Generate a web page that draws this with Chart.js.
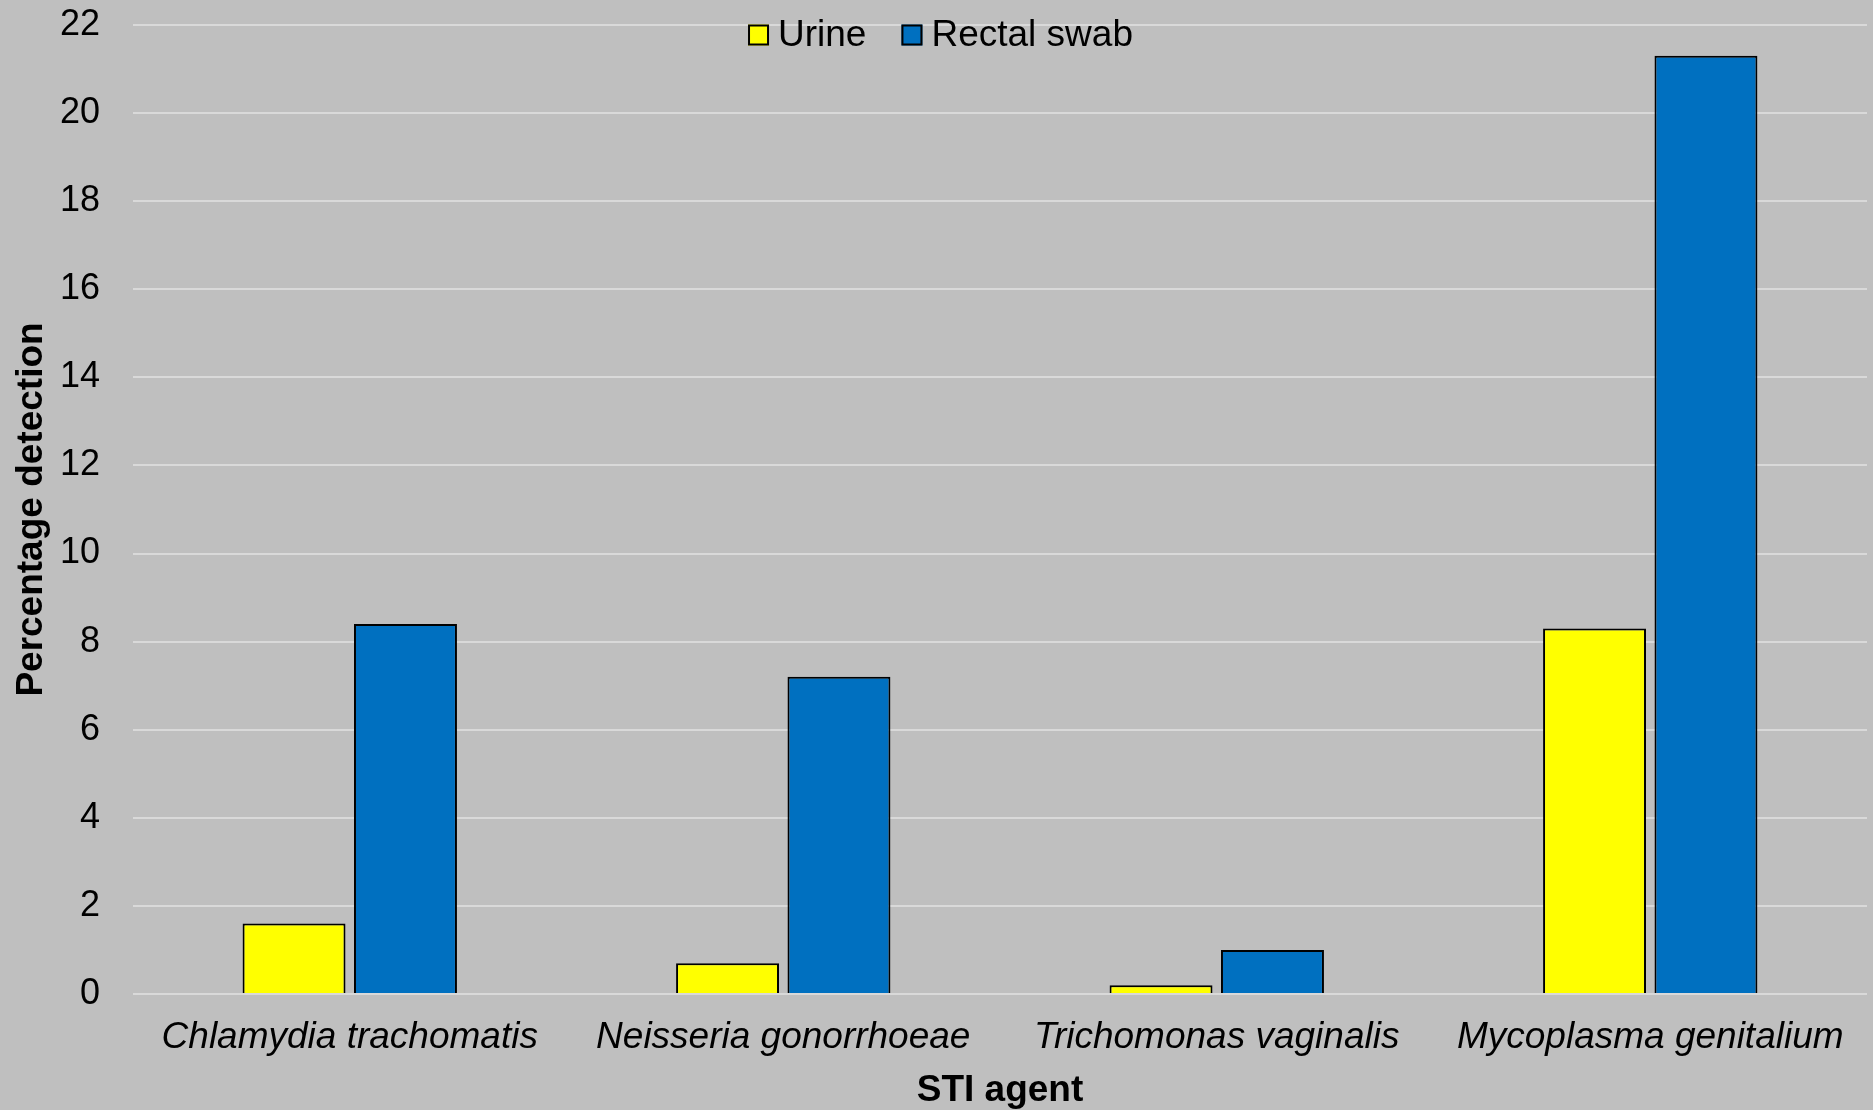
<!DOCTYPE html>
<html>
<head>
<meta charset="utf-8">
<script src="https://cdn.jsdelivr.net/npm/chart.js@4/dist/chart.umd.min.js"></script>
<style>
  html, body { margin: 0; padding: 0; background: #bfbfbf; }
  #wrap { width: 1873px; height: 1110px; }
</style>
</head>
<body>
<div id="wrap"><canvas id="stiChart"></canvas></div>
<script>
const agents = ['Chlamydia trachomatis', 'Neisseria gonorrhoeae', 'Trichomonas vaginalis', 'Mycoplasma genitalium'];
const urineValues = [1.6, 0.7, 0.2, 8.3];
const rectalValues = [8.4, 7.2, 1.0, 21.3];
const yTicks = [0, 2, 4, 6, 8, 10, 12, 14, 16, 18, 20, 22];

const fontFamily = '"Liberation Sans", Arial, sans-serif';

// grey backdrop behind the whole canvas
const backdrop = {
  id: 'backdrop',
  beforeDraw(chart) {
    const ctx = chart.ctx;
    ctx.save();
    ctx.fillStyle = '#bfbfbf';
    ctx.fillRect(0, 0, chart.width, chart.height);
    ctx.restore();
  }
};

// legend sits inside the plot, centred along the top edge
const topLegend = {
  id: 'topLegend',
  afterDatasetsDraw(chart) {
    const ctx = chart.ctx;
    const box = 21, gapText = 9, gapItem = 35;
    const y = chart.chartArea.top + 10;
    ctx.save();
    ctx.font = '37px ' + fontFamily;
    ctx.textBaseline = 'middle';
    const items = chart.data.datasets.map(ds => ({
      label: ds.label,
      color: ds.backgroundColor,
      w: ctx.measureText(ds.label).width
    }));
    const total = items.reduce((s, it) => s + box + gapText + it.w, 0) + gapItem * (items.length - 1);
    let x = chart.width / 2 - total / 2 + 4;
    items.forEach(it => {
      ctx.fillStyle = it.color;
      ctx.fillRect(x, y - box / 2, box, box);
      ctx.strokeStyle = '#000';
      ctx.lineWidth = 2;
      ctx.strokeRect(x + 1, y - box / 2 + 1, box - 2, box - 2);
      ctx.fillStyle = '#000';
      ctx.fillText(it.label, x + box + gapText, y + 1);
      x += box + gapText + it.w + gapItem;
    });
    ctx.restore();
  }
};

new Chart(document.getElementById('stiChart'), {
  type: 'bar',
  data: {
    labels: agents,
    datasets: [{
      label: 'Urine',
      data: urineValues,
      backgroundColor: '#ffff00',
      borderColor: '#000',
      borderWidth: 2
    }, {
      label: 'Rectal swab',
      data: rectalValues,
      backgroundColor: '#0070c0',
      borderColor: '#000',
      borderWidth: 2
    }]
  },
  options: {
    responsive: true,
    maintainAspectRatio: false,
    animation: false,
    categoryPercentage: 0.514,
    barPercentage: 0.924,
    layout: { padding: { left: 10, right: 6, top: 25, bottom: 0 } },
    scales: {
      x: {
        afterFit(scale) {
          scale.height = 116;
          scale.paddingTop = 0;
          scale.paddingBottom = 0;
        },
        grid: { display: false, drawTicks: false },
        border: { display: false },
        ticks: {
          color: '#000',
          padding: 22,
          maxRotation: 0,
          font: { family: fontFamily, size: 37, style: 'italic' }
        },
        title: {
          display: true,
          text: 'STI agent',
          color: '#000',
          padding: { top: 0, bottom: -3 },
          font: { family: fontFamily, size: 37, weight: 'bold' }
        }
      },
      y: {
        min: 0,
        max: 22,
        afterFit(scale) {
          scale.width = 123;
          scale.paddingTop = 0;
          scale.paddingBottom = 0;
        },
        afterBuildTicks(axis) {
          axis.ticks = yTicks.map(v => ({ value: v }));
        },
        grid: { color: '#d9d9d9', lineWidth: 2, drawTicks: false },
        border: { display: false },
        ticks: {
          color: '#000',
          padding: 33,
          font: { family: fontFamily, size: 36 }
        },
        title: {
          display: true,
          text: 'Percentage detection',
          color: '#000',
          padding: { top: 0, bottom: 0 },
          font: { family: fontFamily, size: 37, weight: 'bold' }
        }
      }
    },
    plugins: {
      legend: { display: false },
      tooltip: { enabled: false }
    }
  },
  plugins: [backdrop, topLegend]
});
</script>
</body>
</html>
